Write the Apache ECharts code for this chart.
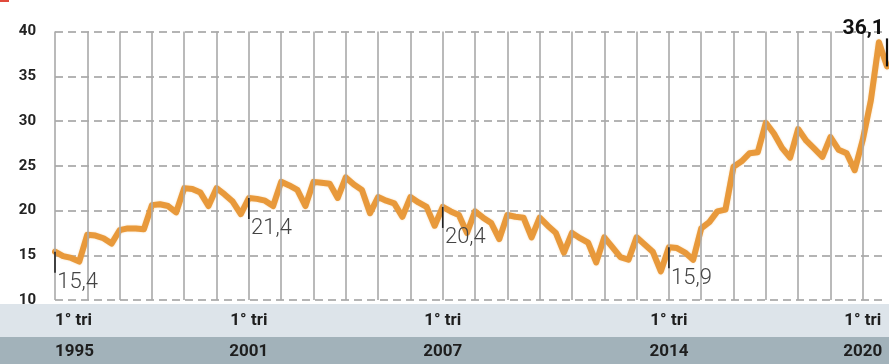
<!DOCTYPE html>
<html>
<head>
<meta charset="utf-8">
<script src="https://cdn.jsdelivr.net/npm/echarts@6/dist/echarts.min.js"></script>
<style>
html,body{margin:0;padding:0;background:#fff;}
#c{width:889px;height:364px;}
</style>
</head>
<body>
<div id="c"></div>
<script>
// ---- data ----
const years = [1995,1996,1997,1998,1999,2000,2001,2002,2003,2004,2005,2006,2007,
               2008,2009,2010,2011,2012,2013,2014,2015,2016,2017,2018,2019,2020];
const quarterNames = ['1° tri','2° tri','3° tri','4° tri'];
const values = [
  15.4, 14.9, 14.7, 14.3,   // 1995
  17.3, 17.2, 16.9, 16.3,   // 1996
  17.8, 18.0, 18.0, 17.9,   // 1997
  20.6, 20.7, 20.5, 19.8,   // 1998
  22.5, 22.4, 22.0, 20.5,   // 1999
  22.5, 21.8, 21.0, 19.6,   // 2000
  21.4, 21.3, 21.1, 20.5,   // 2001
  23.2, 22.8, 22.3, 20.5,   // 2002
  23.2, 23.1, 23.0, 21.4,   // 2003
  23.7, 22.9, 22.3, 19.7,   // 2004
  21.5, 21.1, 20.8, 19.3,   // 2005
  21.5, 20.9, 20.4, 18.3,   // 2006
  20.4, 19.9, 19.5, 17.5,   // 2007
  19.9, 19.2, 18.6, 16.8,   // 2008
  19.5, 19.3, 19.2, 17.0,   // 2009
  19.2, 18.3, 17.5, 15.3,   // 2010
  17.5, 16.9, 16.4, 14.2,   // 2011
  17.0, 15.9, 14.8, 14.5,   // 2012
  17.0, 16.2, 15.4, 13.2,   // 2013
  15.9, 15.8, 15.3, 14.5,   // 2014
  18.0, 18.7, 19.9, 20.1,   // 2015
  24.9, 25.5, 26.4, 26.5,   // 2016
  29.8, 28.6, 27.0, 25.9,   // 2017
  29.1, 27.8, 26.9, 26.0,   // 2018
  28.2, 26.8, 26.4, 24.5,   // 2019
  27.9, 32.3, 38.8, 36.1    // 2020
];
const labelYears = [1995, 2001, 2007, 2014, 2020];      // x labels shown at "1° tri"
const annotatedBelow = ['1995|1° tri', '2001|1° tri', '2007|1° tri', '2014|1° tri'];
const annotatedAbove = ['2020|4° tri'];
const yTicks = {min: 10, max: 40, interval: 5};

// ---- build ----
const categories = [];
years.forEach(y => quarterNames.forEach(q => categories.push(y + '|' + q)));
const fmt = v => String(v).replace('.', ',');

const chart = echarts.init(document.getElementById('c'));
const belowPts = annotatedBelow.map(c => {
  const i = categories.indexOf(c);
  return {coord: [c, values[i]], value: values[i]};
});
const abovePts = annotatedAbove.map(c => {
  const i = categories.indexOf(c);
  return {coord: [c, values[i]], value: values[i]};
});

chart.setOption({
  animation: false,
  backgroundColor: '#fff',
  grid: {left: 55, right: 2, top: 31.5, bottom: 64},
  graphic: {elements: [
    {type: 'rect', z: -10, left: 0, top: 304, shape: {width: 889, height: 33}, style: {fill: '#dde4ea'}},
    {type: 'rect', z: -10, left: 0, top: 337, shape: {width: 889, height: 27}, style: {fill: '#a2b2ba'}},
    {type: 'rect', z: -10, left: 0, top: 0, shape: {width: 9, height: 2}, style: {fill: '#e04a3c'}}
  ]},
  xAxis: {
    type: 'category',
    data: categories,
    boundaryGap: false,
    z: 5,
    axisLine: {show: false},
    axisTick: {show: false},
    splitLine: {
      show: true,
      interval: (idx) => idx % 4 === 0,
      lineStyle: {color: '#a9a9a9', width: 1.6}
    },
    axisLabel: {
      margin: 5.5,
      alignMinLabel: 'left',
      interval: (idx, val) => {
        const [y, q] = val.split('|');
        return q === quarterNames[0] && labelYears.includes(+y);
      },
      formatter: (val) => {
        const [y, q] = val.split('|');
        return '{t|' + q + '}\n{y|' + y + '}';
      },
      rich: {
        t: {fontFamily: 'Roboto', fontWeight: 'bold', fontSize: 17, lineHeight: 31, color: '#1e1e1e'},
        y: {fontFamily: 'Roboto', fontWeight: 'bold', fontSize: 17, lineHeight: 31, color: '#1e1e1e'}
      }
    }
  },
  yAxis: {
    type: 'value',
    min: yTicks.min, max: yTicks.max, interval: yTicks.interval,
    axisLine: {show: false},
    axisTick: {show: false},
    axisLabel: {margin: 19, fontFamily: 'Roboto', fontWeight: 'bold', fontSize: 15, color: '#222'},
    splitLine: {lineStyle: {color: '#9c9c9c', width: 1.5, type: [8, 5]}}
  },
  series: [{
    type: 'line',
    data: values,
    symbol: 'none',
    clip: false,
    lineStyle: {color: '#e8993b', width: 6, join: 'round', cap: 'round',
                shadowColor: 'rgba(240,190,120,0.6)', shadowBlur: 2},
    markPoint: {
      silent: true,
      data: [
        ...belowPts.map(p => ({
          coord: p.coord, value: p.value,
          symbol: 'rect', symbolSize: [1.6, 21], symbolOffset: [0, 10.5],
          itemStyle: {color: '#222'},
          label: {show: true, formatter: fmt(p.value), position: [3, 20],
                  fontFamily: 'Roboto', fontWeight: 300, fontSize: 22, color: '#444'}
        })),
        ...abovePts.map(p => ({
          coord: p.coord, value: p.value,
          symbol: 'rect', symbolSize: [2.2, 28], symbolOffset: [0, -14],
          itemStyle: {color: '#111'},
          label: {show: true, formatter: fmt(p.value), position: [-2, 1],
                  align: 'right', verticalAlign: 'bottom',
                  fontFamily: 'Roboto', fontWeight: 'bold', fontSize: 21, color: '#111'}
        }))
      ]
    }
  }]
});
</script>
</body>
</html>
